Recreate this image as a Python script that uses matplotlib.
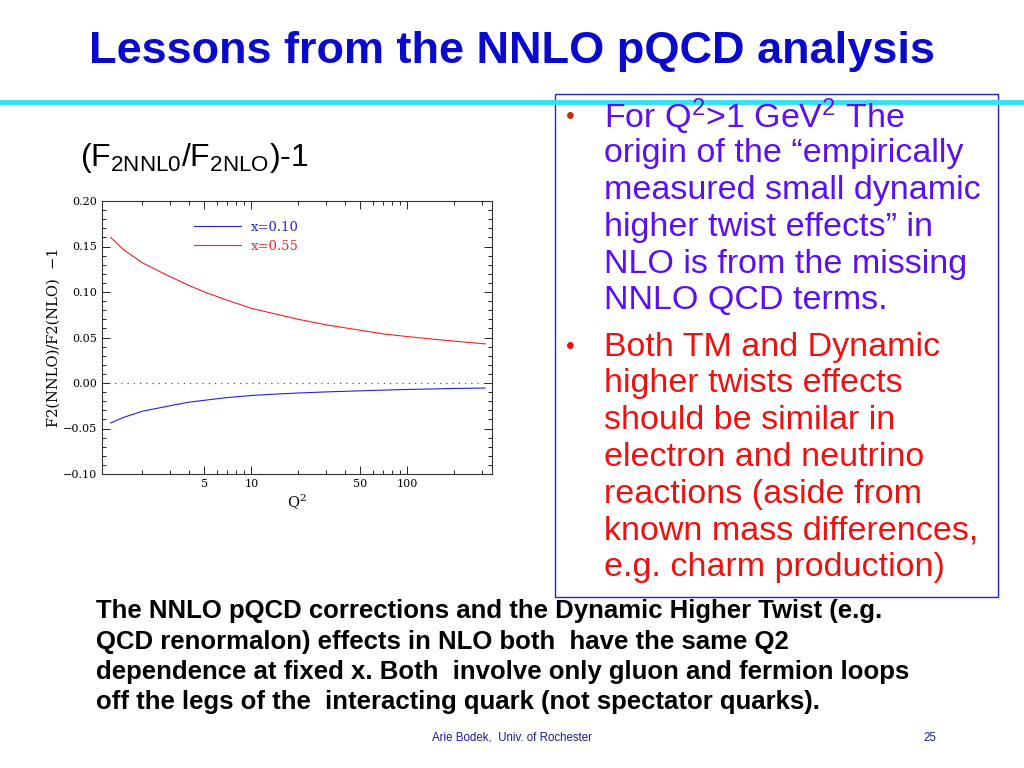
import matplotlib
matplotlib.use('Agg')
import matplotlib.pyplot as plt
from matplotlib.ticker import FixedLocator, NullFormatter, MultipleLocator, FuncFormatter, FormatStrFormatter
from matplotlib.patches import Rectangle

# Q2 values and ratio F2(NNLO)/F2(NLO) - 1
q2 = [1.25, 1.5, 2, 3, 4, 5, 7, 10, 15, 20, 30, 50, 70, 100, 150, 200, 316]
ratio_x010 = [-0.044, -0.038, -0.031, -0.025, -0.021, -0.019, -0.016, -0.0137,
              -0.012, -0.011, -0.0098, -0.0086, -0.0078, -0.0071, -0.0065, -0.006, -0.0055]
ratio_x055 = [0.160, 0.147, 0.132, 0.117, 0.107, 0.100, 0.091, 0.082,
              0.075, 0.070, 0.064, 0.058, 0.054, 0.051, 0.048, 0.046, 0.043]
xticks = [5, 10, 50, 100]

plt.rcParams['mathtext.default'] = 'regular'

fig = plt.figure(figsize=(10.24, 7.68), dpi=100)
fig.patch.set_facecolor('white')

# titel en lijn
fig.text(0.5, 1 - 51 / 768, 'Lessons from the NNLO pQCD analysis', ha='center', va='center',
         fontsize=32.5, fontweight='bold', color='#0a0acc', family='Liberation Sans')
fig.add_artist(plt.Line2D([0, 1], [1 - 102 / 768, 1 - 102 / 768], color='#33e0f5', lw=3.5))

fig.text(80 / 1024, 1 - 158 / 768, r'(F$_{\mathregular{2NNL0}}$/F$_{\mathregular{2NLO}}$)-1',
         ha='left', va='center', fontsize=23, family='Liberation Sans')

# de grafiek
ax = fig.add_axes([102 / 1024, 1 - 474 / 768, 390 / 1024, 273 / 768])
ax.plot(q2, ratio_x010, color='#2222dd', lw=0.8, label='x=0.10')
ax.plot(q2, ratio_x055, color='#ee2222', lw=0.8, label='x=0.55')
ax.axhline(0, color='#555555', lw=0.9, ls=(0, (1, 4)))
ax.set_xscale('log')
ax.set_xlim(1.1, 350)
ax.set_ylim(-0.10, 0.20)
ax.xaxis.set_major_locator(FixedLocator(xticks))
ax.xaxis.set_major_formatter(FormatStrFormatter('%d'))
ax.xaxis.set_minor_locator(FixedLocator([2, 3, 4, 6, 7, 8, 9, 20, 30, 40, 60, 70, 80, 90, 200, 300]))
ax.xaxis.set_minor_formatter(NullFormatter())
ax.yaxis.set_major_locator(MultipleLocator(0.05))
ax.yaxis.set_minor_locator(MultipleLocator(0.01))
ax.yaxis.set_major_formatter(FuncFormatter(lambda v, p: ('%.2f' % (0 if abs(v) < 1e-9 else v)).replace('-', '\u2212')))
ax.tick_params(which='both', direction='in', top=True, right=True, labelsize=8, width=0.6)
ax.tick_params(which='major', length=6)
ax.tick_params(which='minor', length=3)
for lab in ax.get_xticklabels() + ax.get_yticklabels():
    lab.set_family('DejaVu Serif')
for s in ax.spines.values():
    s.set_linewidth(0.8)
    s.set_color('#333333')
ax.set_xlabel(r'Q$^2$', family='DejaVu Serif', fontsize=10.5, labelpad=3)
ax.set_ylabel('F2(NNLO)/F2(NLO)  \u22121', family='DejaVu Serif', fontsize=10.5, labelpad=1.5)

leg = ax.legend(loc='upper left', bbox_to_anchor=(0.205, 0.97), frameon=False,
                handlelength=3.6, handletextpad=0.75,
                prop={'family': 'DejaVu Serif', 'size': 9.5}, labelspacing=0.45)
for txt, c in zip(leg.get_texts(), ['#2222dd', '#ee2222']):
    txt.set_color(c)

# tekstvak rechts
fig.add_artist(Rectangle((555 / 1024, 1 - 597 / 768), 443 / 1024, 503 / 768,
                         fill=False, edgecolor='#2222dd', lw=1.0))
paars = '#5a10f0'
regels1 = ['For Q$^{2}$>1 GeV$^{2}$ The', 'origin of the \u201cempirically',
           'measured small dynamic', 'higher twist effects\u201d in',
           'NLO is from the missing', 'NNLO QCD terms.']
regels2 = ['Both TM and Dynamic', 'higher twists effects', 'should be similar in',
           'electron and neutrino', 'reactions (aside from',
           'known mass differences,', 'e.g. charm production)']
for i, r in enumerate(regels1):
    y = 117 + i * 36.8
    fig.text(604 / 1024, 1 - y / 768, r, ha='left', va='center', fontsize=24.5,
             color=paars, family='Liberation Sans')
for i, r in enumerate(regels2):
    y = 347 + i * 36.8
    fig.text(604 / 1024, 1 - y / 768, r, ha='left', va='center', fontsize=24.5,
             color='#ee1111', family='Liberation Sans')
fig.text(570 / 1024, 1 - 117 / 768, '\u2022', ha='center', va='center', fontsize=18,
         color='#c03010', family='Liberation Sans')
fig.text(570 / 1024, 1 - 347 / 768, '\u2022', ha='center', va='center', fontsize=18,
         color='#ee1111', family='Liberation Sans')

# tekst onderaan
onder = ['The NNLO pQCD corrections and the Dynamic Higher Twist (e.g.',
         'QCD renormalon) effects in NLO both  have the same Q2',
         'dependence at fixed x. Both  involve only gluon and fermion loops',
         'off the legs of the  interacting quark (not spectator quarks).']
for i, r in enumerate(onder):
    y = 611 + i * 30.5
    fig.text(96 / 1024, 1 - y / 768, r, ha='left', va='center', fontsize=18.5,
             fontweight='bold', color='black', family='Liberation Sans')

fig.text(512 / 1024, 1 - 738 / 768, 'Arie Bodek,  Univ. of Rochester', ha='center',
         va='center', fontsize=8.3, color='#1a1a99', family='Liberation Sans')
fig.text(930 / 1024, 1 - 738 / 768, '25', ha='center', va='center', fontsize=8.3,
         color='#1a1a99', family='Liberation Sans')

fig.savefig('out.png', dpi=100)
